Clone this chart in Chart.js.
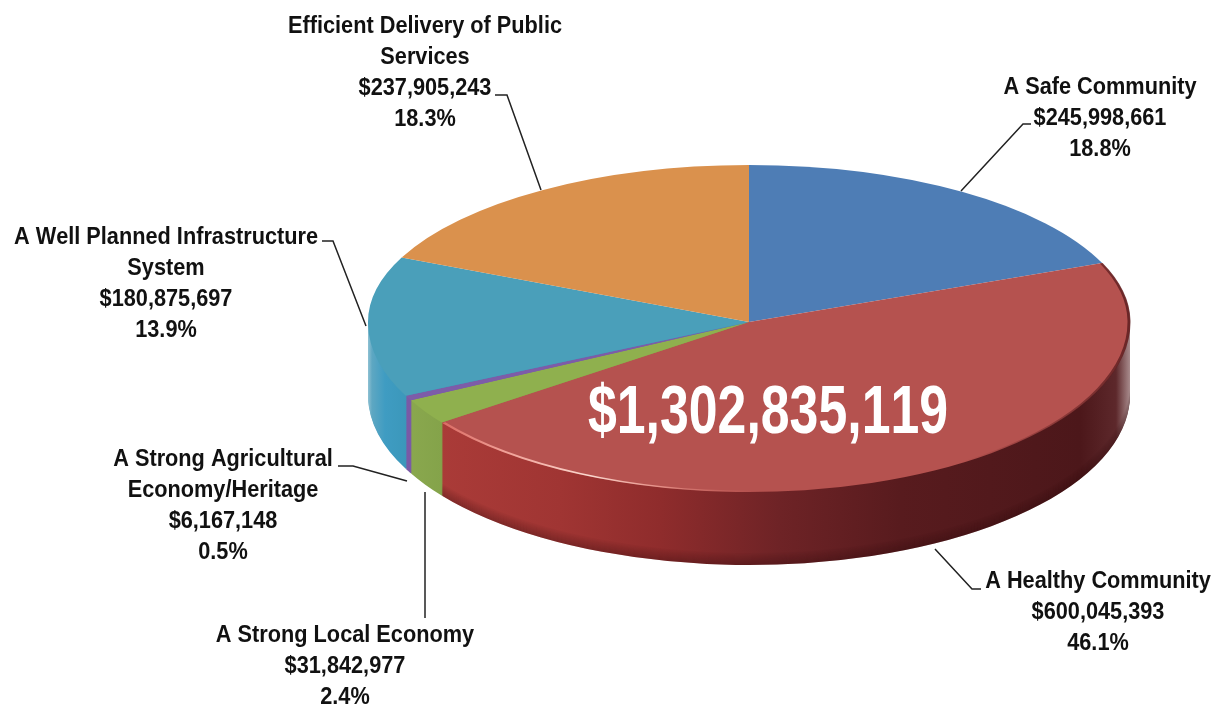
<!DOCTYPE html>
<html>
<head>
<meta charset="utf-8">
<style>
  html, body { margin: 0; padding: 0; background: #fff; }
  canvas { display: block; }
</style>
<script src="https://cdn.jsdelivr.net/npm/chart.js@4/dist/chart.umd.min.js"></script>
</head>
<body>
<canvas id="budget" width="1218" height="706"></canvas>
<script>
// Budget by strategic priority, clockwise from twelve o'clock
const categories = [
  'A Safe Community',
  'A Healthy Community',
  'A Strong Local Economy',
  'A Strong Agricultural Economy/Heritage',
  'A Well Planned Infrastructure System',
  'Efficient Delivery of Public Services'
];
const amounts = [245998661, 600045393, 31842977, 6167148, 180875697, 237905243];
const percents = ['18.8%', '46.1%', '2.4%', '0.5%', '13.9%', '18.3%'];
const totalLabel = '$1,302,835,119';

const faceColors = ['#4e7db5', '#b5524f', '#8fb04e', '#7d5ca8', '#4a9fba', '#da914d'];

// Callout layout: wrapped name lines, text centre, first baseline, leader polyline
const callouts = [
  { lines: ['A Safe Community'], x: 1100, y: 94, leader: [[961, 191], [1023, 124], [1031, 124]] },
  { lines: ['A Healthy Community'], x: 1098, y: 588, leader: [[935, 549], [972, 589], [981, 589]] },
  { lines: ['A Strong Local Economy'], x: 345, y: 642, leader: [[425, 492], [425, 618]] },
  { lines: ['A Strong Agricultural', 'Economy/Heritage'], x: 223, y: 466, leader: [[407, 481], [353, 466], [338, 466]] },
  { lines: ['A Well Planned Infrastructure', 'System'], x: 166, y: 244, leader: [[366, 326], [333, 241], [322, 241]] },
  { lines: ['Efficient Delivery of Public', 'Services'], x: 425, y: 33, leader: [[541, 190], [507, 95], [495, 95]] }
];

// The far half of the disc is foreshortened a little more than the near half
const SQUASH_FAR = 157 / 381;
const SQUASH_NEAR = 170 / 381;
const DEPTH = 73;
const LABEL_FONT = 'bold 24px "Liberation Sans", sans-serif';
const LABEL_NARROW = 0.905;
const TOTAL_FONT = 'bold 68px "Liberation Sans", sans-serif';
const TOTAL_NARROW = 0.762;

function horizontal(ctx, stops) {
  const g = ctx.createLinearGradient(360, 0, 1135, 0);
  stops.forEach(([x, c]) => g.addColorStop((x - 360) / 775, c));
  return g;
}

function squashAbout(ctx, cx, cy, k) {
  ctx.translate(cx, cy);
  ctx.scale(1, k);
  ctx.translate(-cx, -cy);
}

function narrowText(ctx, text, x, y, k) {
  ctx.save();
  ctx.translate(x, y);
  ctx.scale(k, 1);
  ctx.fillText(text, 0, 0);
  ctx.restore();
}

const pie3d = {
  id: 'pie3d',
  beforeDatasetsDraw(chart) {
    const ctx = chart.ctx;
    const arcs = chart.getDatasetMeta(0).data;
    const { x: cx, y: cy, outerRadius: r } = arcs[0];

    const wallFill = [
      horizontal(ctx, [[360, '#3a7f9c'], [420, '#3a7f9c']]),
      horizontal(ctx, [[440, '#aa3b38'], [560, '#a03533'], [660, '#8f2c2c'], [780, '#6e2326'], [900, '#581b1e'], [1080, '#4c171a'], [1116, '#5d282b'], [1132, '#b39a9b']]),
      horizontal(ctx, [[408, '#8aa84e'], [442, '#84a34a']]),
      horizontal(ctx, [[400, '#7a5aa6'], [415, '#7a5aa6']]),
      horizontal(ctx, [[366, '#a9cfdc'], [372, '#5ea7c2'], [385, '#3f9cc2'], [408, '#3b97ba']]),
      horizontal(ctx, [[360, '#b8763c'], [1135, '#b8763c']])
    ];

    const withFill = (el, fill) => {
      const copy = Object.create(el);
      copy.options = Object.assign({}, el.options, { backgroundColor: fill, borderWidth: 0 });
      return copy;
    };

    // Side wall: the same arcs stacked back to front, darkening toward the lower edge.
    // Only the part below the disc's widest line can ever show.
    ctx.save();
    ctx.beginPath();
    ctx.rect(0, cy, chart.width, chart.height - cy);
    ctx.clip();
    squashAbout(ctx, cx, cy, SQUASH_NEAR);
    for (let d = DEPTH; d >= 1; d--) {
      ctx.save();
      ctx.translate(0, d / SQUASH_NEAR);
      arcs.forEach((el, i) => withFill(el, wallFill[i]).draw(ctx));
      if (d > DEPTH - 12) {
        const a = 0.026 * (d - (DEPTH - 12));
        withFill(arcs[1], `rgba(40,8,10,${a})`).draw(ctx);
      }
      ctx.restore();
    }
    ctx.restore();

    // Top face, far half then near half, meeting at the pie centre
    const face = (top, height, k, extra) => {
      ctx.save();
      ctx.beginPath();
      ctx.rect(0, top, chart.width, height);
      ctx.clip();
      squashAbout(ctx, cx, cy, k);
      arcs.forEach(el => el.draw(ctx));
      // Thin dark edge along the right rim of the largest slice
      ctx.beginPath();
      ctx.arc(cx, cy, r - 1, arcs[1].startAngle, arcs[1].endAngle);
      ctx.lineWidth = 3;
      ctx.strokeStyle = horizontal(ctx, [[960, 'rgba(90,28,30,0)'], [1080, 'rgba(90,28,30,0.55)'], [1135, 'rgba(90,28,30,0.85)']]);
      ctx.stroke();
      if (extra) extra();
      ctx.restore();
    };
    face(0, cy, SQUASH_FAR);
    face(cy, chart.height - cy, SQUASH_NEAR, () => {
      // Highlight catching the near rim
      ctx.beginPath();
      ctx.arc(cx, cy, r - 1.5, arcs[1].endAngle - 0.005, arcs[1].endAngle - 0.95, true);
      ctx.lineWidth = 3.5;
      ctx.strokeStyle = horizontal(ctx, [[442, 'rgba(235,120,110,0.7)'], [500, 'rgba(250,170,160,0.85)'], [590, 'rgba(255,225,215,0.95)'], [660, 'rgba(250,170,160,0.7)'], [750, 'rgba(235,130,120,0)']]);
      ctx.stroke();
    });

    return false;
  },
  afterDraw(chart) {
    const ctx = chart.ctx;
    ctx.save();

    // Leader lines
    ctx.strokeStyle = '#222';
    ctx.lineWidth = 1.5;
    callouts.forEach(c => {
      ctx.beginPath();
      c.leader.forEach(([x, y], i) => (i ? ctx.lineTo(x, y) : ctx.moveTo(x, y)));
      ctx.stroke();
    });

    // Callout text
    ctx.fillStyle = '#111';
    ctx.font = LABEL_FONT;
    ctx.textAlign = 'center';
    ctx.textBaseline = 'alphabetic';
    ctx.fontKerning = 'none';
    callouts.forEach((c, i) => {
      const rows = [...c.lines, '$' + amounts[i].toLocaleString('en-US'), percents[i]];
      rows.forEach((t, k) => narrowText(ctx, t, c.x, c.y + k * 31, LABEL_NARROW));
    });

    // Grand total on the pie
    ctx.fillStyle = '#fff';
    ctx.font = TOTAL_FONT;
    narrowText(ctx, totalLabel, 768, 433, TOTAL_NARROW);
    ctx.restore();
  }
};

new Chart(document.getElementById('budget'), {
  type: 'pie',
  data: {
    labels: categories,
    datasets: [{ data: amounts, backgroundColor: faceColors, borderWidth: 0 }]
  },
  options: {
    responsive: false,
    animation: false,
    radius: 381,
    layout: { padding: { left: 280, bottom: 62 } },
    plugins: { legend: { display: false }, tooltip: { enabled: false } }
  },
  plugins: [pie3d]
});
</script>
</body>
</html>
